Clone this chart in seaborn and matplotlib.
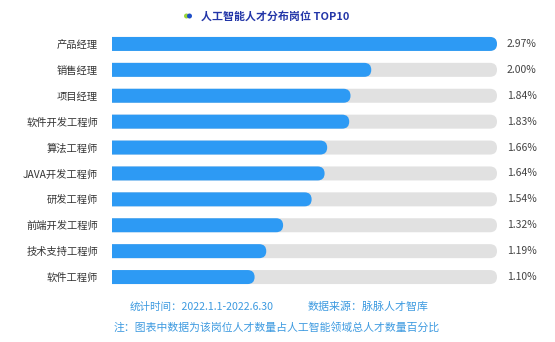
import matplotlib
matplotlib.use("Agg")
import matplotlib.pyplot as plt
import seaborn as sns
import pandas as pd
from matplotlib.patches import FancyBboxPatch

jobs = ["产品经理", "销售经理", "项目经理", "软件开发工程师", "算法工程师",
        "JAVA开发工程师", "研发工程师", "前端开发工程师", "技术支持工程师", "软件工程师"]
shares = [2.97, 2.00, 1.84, 1.83, 1.66, 1.64, 1.54, 1.32, 1.19, 1.10]
value_labels = ["2.97%", "2.00%", "1.84%", "1.83%", "1.66%", "1.64%", "1.54%", "1.32%", "1.19%", "1.10%"]
track_max = 2.97

sns.set_theme(style="white")
plt.rcParams['font.family'] = ['Noto Sans CJK SC', 'DejaVu Sans']

W, H = 555, 342
fig = plt.figure(figsize=(W / 100, H / 100), dpi=100)
ax_l, ax_r = 112, 497
ax_top, ax_bot = 31, 290
ax = fig.add_axes([ax_l / W, 1 - ax_bot / H, (ax_r - ax_l) / W, (ax_bot - ax_top) / H])

df = pd.DataFrame({"job": jobs, "share": shares, "track": [track_max] * len(jobs)})
blue = "#2D9AF4"
grey = "#E1E1E1"
bw = 0.54
sns.barplot(data=df, y="job", x="track", color=grey, width=bw, ax=ax, saturation=1, order=jobs)
n_track = len(ax.patches)
sns.barplot(data=df, y="job", x="share", color=blue, width=bw, ax=ax, saturation=1, order=jobs)

ax.set_xlim(0, track_max)
ax.set_ylim(len(jobs) - 0.5, -0.5)

# replace rectangles with bars rounded at the right end (left end square, clipped by axes)
px_per_x = (ax_r - ax_l) / track_max
px_per_y = (ax_bot - ax_top) / len(jobs)
r_px = 7.0
rx = r_px / px_per_x
aspect = (r_px / px_per_y) / rx
rects = list(ax.patches)
for i, p in enumerate(rects):
    x0, y0 = p.get_x(), p.get_y()
    w, h = p.get_width(), p.get_height()
    fc = p.get_facecolor()
    p.remove()
    fb = FancyBboxPatch((x0 - rx, y0), w + rx, h,
                        boxstyle=f"round,pad=0,rounding_size={rx}",
                        mutation_aspect=aspect, facecolor=fc, edgecolor="none",
                        zorder=1 if i < n_track else 2)
    ax.add_patch(fb)

for i, lab in enumerate(value_labels):
    ax.text(track_max + 10 / px_per_x, i, lab, va="center", ha="left",
            fontsize=7.5, color="#444444", clip_on=False)

ax.set_xlabel("")
ax.set_ylabel("")
ax.set_xticks([])
ax.tick_params(axis="y", length=0, pad=10, labelsize=7.4, labelcolor="#333333")
for s in ax.spines.values():
    s.set_visible(False)

fig.text(275 / W, 1 - 16 / H, "人工智能人才分布岗位 TOP10", ha="center", va="center",
         fontsize=7.9, fontweight="bold", color="#2336A8")
# small icon
fig.patches.append(matplotlib.patches.Ellipse((186.5 / W, 1 - 16 / H), 5 / W, 5 / H,
                   transform=fig.transFigure, facecolor="#9BD53A", edgecolor="none"))
fig.patches.append(matplotlib.patches.Ellipse((189.5 / W, 1 - 16 / H), 5 / W, 5 / H,
                   transform=fig.transFigure, facecolor="#1F4FC8", edgecolor="none"))

foot_color = "#3D9AE0"
fig.text(130 / W, 1 - 307 / H, "统计时间：2022.1.1-2022.6.30", ha="left", va="center",
         fontsize=7.6, color=foot_color)
fig.text(308 / W, 1 - 307 / H, "数据来源：脉脉人才智库", ha="left", va="center",
         fontsize=7.9, color=foot_color)
fig.text(114 / W, 1 - 327 / H, "注：图表中数据为该岗位人才数量占人工智能领域总人才数量百分比",
         ha="left", va="center", fontsize=7.8, color=foot_color)

fig.savefig("out.png", dpi=100, facecolor="white")
